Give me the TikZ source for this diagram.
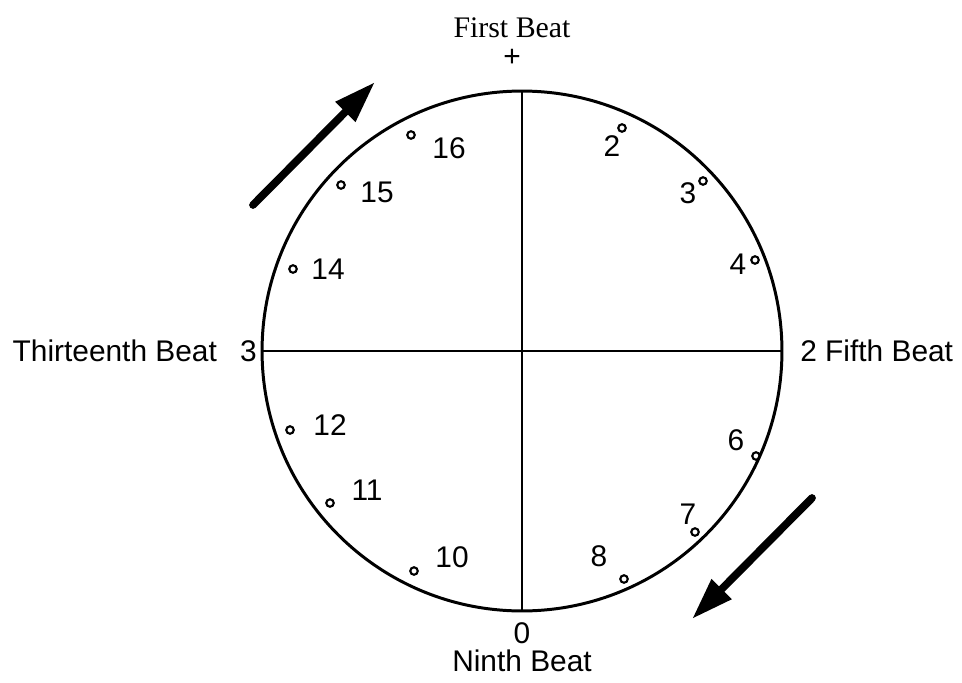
\documentclass[tikz,border=0pt]{standalone}
\usepackage{fontspec}
\setmainfont{Liberation Serif}
\setsansfont{Liberation Sans}
\usetikzlibrary{arrows.meta, positioning}

\begin{document}
\begin{tikzpicture}[x=0.02cm, y=-0.02cm,
    font=\sffamily\fontsize{17}{19}\selectfont,
    beat/.style={draw, circle, line width=1.2pt, inner sep=0pt, minimum size=0.15cm},
    turn/.style={line width=4.4pt, line cap=round, -{Triangle[length=24pt, width=15pt]}}]
  \useasboundingbox (0,0) rectangle (962,682);

  % the wheel and its spokes
  \node (wheel) [draw, circle, line width=1.7pt, inner sep=0pt, outer sep=0pt,
    minimum size=10.4cm] at (522,351) {};
  \draw[line width=1.3pt] (wheel.north) -- (wheel.south);
  \draw[line width=1.3pt] (wheel.west) -- (wheel.east);

  % quarter labels
  \node (plus)   [above=0.48cm of wheel.north, xshift=-0.2cm, inner sep=0pt] {+};
  \node (first)  [above=0.22cm of plus, inner sep=0pt, font=\rmfamily\fontsize{17}{19}\selectfont] {First Beat};
  \node (three)  [left=0.1cm of wheel.west, inner sep=0pt] {3};
  \node (thirteenth) [left=0.45cm of three, inner sep=0pt] {Thirteenth Beat};
  \node (fifth)  [right=0.36cm of wheel.east, inner sep=0pt] {2 Fifth Beat};
  \node (zero)   [below=0.22cm of wheel.south, inner sep=0pt] {0};
  \node (ninth)  [below=0.12cm of zero, inner sep=0pt] {Ninth Beat};

  % beats round the wheel
  \foreach \n/\x/\y/\lx/\ly in {2/622/128/612/146, 3/703/181/688/193, 4/755/260/738/264,
      6/756/456/736/440, 7/695/532/688/514, 8/624/579/599/556,
      10/414/571/452/557, 11/330/503/367/490, 12/290/430/330/425,
      14/293/269/328/269, 15/341/185/377/192, 16/411/135/449/148}
  {
    \node (d\n) [beat] at (\x,\y) {};
    \node (l\n) at (\lx,\ly) {\n};
  }

  % direction of travel
  \coordinate (upA) at (253,205);
  \coordinate (upB) at (375,82);
  \coordinate (downA) at (812,498);
  \coordinate (downB) at (692,619);
  \draw[turn] (upA) -- (upB);
  \draw[turn] (downA) -- (downB);
\end{tikzpicture}
\end{document}
